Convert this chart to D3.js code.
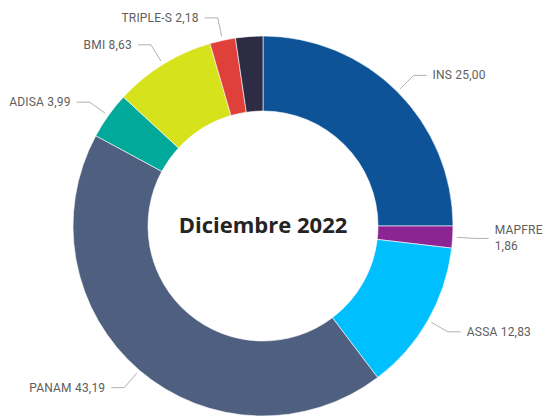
<!doctype html>
<html>
  <head>
    <meta charset="utf-8">
    <script src="https://d3js.org/d3.v7.min.js"></script>
    <style>
      html, body { margin: 0; padding: 0; background: #fff; }
      svg { display: block; }
      .lbl { font-family: Roboto, "DejaVu Sans", sans-serif; font-size: 12px; fill: #605e5c; letter-spacing: 0.2px; }
      .title { font-family: "Open Sans", "DejaVu Sans", sans-serif; font-weight: 700; font-size: 22px; fill: #252423; }
    </style>
  </head>
  <body>
    <svg id="chart" width="545" height="417"></svg>
    <script>
      // data, clockwise from 12 o'clock
      var names  = ["INS", "MAPFRE", "ASSA", "PANAM", "ADISA", "BMI", "TRIPLE-S", "OTROS"];
      var values = [25.00, 1.86, 12.83, 43.19, 3.99, 8.63, 2.18, 2.32];
      var colours = ["#0e5398", "#8c2493", "#00bfff", "#4e5f80", "#00a99a", "#d6e21c", "#e0403a", "#2e2c45"];
      var showLabel = [true, true, true, true, true, true, true, false];
      var title = "Diciembre 2022";

      var data = names.map(function(n, i) { return { name: n, value: values[i], i: i }; });

      var cx = 263, cy = 226;
      var outerR = 190, innerR = 115;

      var svg = d3.select("svg#chart");
      var g = svg.append("g").attr("transform", "translate(" + cx + "," + cy + ")");

      var pie = d3.pie().sort(null).value(function(d) { return d.value; });
      var arc = d3.arc().innerRadius(innerR).outerRadius(outerR);
      var startArc = d3.arc().innerRadius(outerR + 4).outerRadius(outerR + 4);
      var elbowArc = d3.arc().innerRadius(outerR + 23).outerRadius(outerR + 23);

      var colour = d3.scaleOrdinal().domain(names).range(colours);
      var fmt = function(v) { return d3.format(".2f")(v).replace(".", ","); };

      var slices = pie(data);

      g.selectAll("path.slice")
        .data(slices)
        .enter()
        .append("path")
        .attr("class", "slice")
        .attr("d", arc)
        .attr("fill", function(d) { return colour(d.data.name); })
        .attr("stroke", "#fff")
        .attr("stroke-width", 0.6);

      var labelled = slices.filter(function(d) { return showLabel[d.data.i]; });

      function side(d) {
        var mid = (d.startAngle + d.endAngle) / 2;
        return mid < Math.PI ? 1 : -1;
      }

      g.selectAll("polyline")
        .data(labelled)
        .enter()
        .append("polyline")
        .attr("fill", "none")
        .attr("stroke", "#b3b0ad")
        .attr("stroke-width", 1)
        .attr("points", function(d) {
          var a = startArc.centroid(d);
          var b = elbowArc.centroid(d);
          var c = [b[0] + side(d) * 13, b[1]];
          return [a, b, c];
        });

      var texts = g.selectAll("text.lbl")
        .data(labelled)
        .enter()
        .append("text")
        .attr("class", "lbl")
        .attr("text-anchor", function(d) { return side(d) > 0 ? "start" : "end"; })
        .attr("dominant-baseline", "central")
        .attr("x", function(d) { return elbowArc.centroid(d)[0] + side(d) * 19; })
        .attr("y", function(d) { return elbowArc.centroid(d)[1]; })
        .text(function(d) { return d.data.name + " " + fmt(d.data.value); });

      // wrap labels that would run off the right edge
      texts.each(function(d) {
        var t = d3.select(this);
        var x = +t.attr("x"), y = +t.attr("y");
        if (side(d) > 0 && cx + x + this.getComputedTextLength() > 545) {
          t.text(null);
          t.append("tspan").attr("x", x).attr("y", y - 8).text(d.data.name);
          t.append("tspan").attr("x", x).attr("y", y + 8).text(fmt(d.data.value));
        }
      });

      g.append("text")
        .attr("class", "title")
        .attr("text-anchor", "middle")
        .attr("x", 0)
        .attr("y", 7)
        .text(title);
    </script>
  </body>
</html>
